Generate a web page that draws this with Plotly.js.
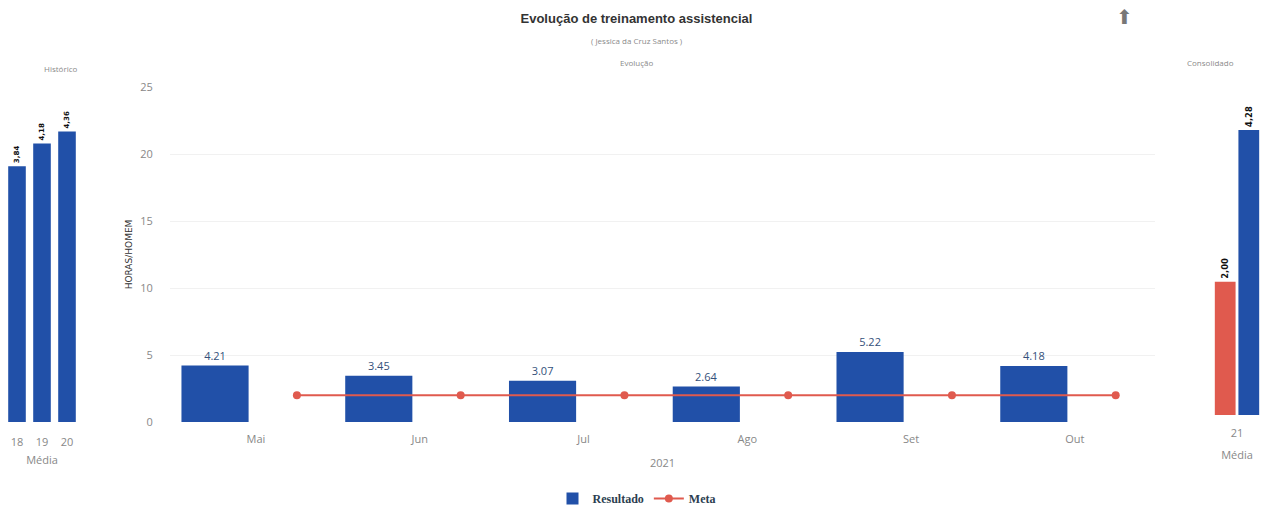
<!DOCTYPE html>
<html><head><meta charset="utf-8">
<script src="https://cdn.plot.ly/plotly-3.0.1.min.js"></script>
<style>html,body{margin:0;padding:0;background:#fff}#chart{width:1273px;height:506px}</style>
</head><body><div id="chart"></div>
<script>
// Main panel (Evolução)
const months = ["Mai", "Jun", "Jul", "Ago", "Set", "Out"];
const resultado = [4.21, 3.45, 3.07, 2.64, 5.22, 4.18];
const meta = [2.0, 2.0, 2.0, 2.0, 2.0, 2.0];
const yearLabel = "2021";
// Left panel (Histórico)
const histYears = ["18", "19", "20"];
const histValues = [3.84, 4.18, 4.36];
// Right panel (Consolidado)
const consYear = ["21"];
const consMeta = [2.00];
const consResultado = [4.28];

const BLUE = "#2150a8", RED = "#e05a4e";
const idx = months.map((m, i) => i);
const fmtComma = v => v.toFixed(2).replace(".", ",");

const W = 1273, H = 506;
const px = (a, b) => [a / W, b / W];
const py = (top, bottom) => [(H - bottom) / H, (H - top) / H];

const traces = [
  {type: "bar", name: "Resultado", x: idx.map(i => i - 0.25), y: resultado, width: 0.41,
   marker: {color: BLUE}, text: resultado.map(v => v.toFixed(2)), textposition: "outside",
   textfont: {color: "#34507a", size: 11, family: "Open Sans, sans-serif"}, cliponaxis: false,
   xaxis: "x", yaxis: "y", hoverinfo: "x+y"},
  {type: "scatter", mode: "lines+markers", name: "Meta", x: idx.map(i => i + 0.25), y: meta,
   line: {color: RED, width: 2}, marker: {color: RED, size: 8}, xaxis: "x", yaxis: "y"},
  {type: "bar", x: histYears, y: histValues, marker: {color: BLUE}, showlegend: false,
   text: histValues.map(fmtComma), textposition: "outside", textangle: -90, cliponaxis: false,
   textfont: {color: "#111", size: 9, family: "DejaVu Sans, sans-serif", weight: "bold"},
   xaxis: "x2", yaxis: "y2"},
  {type: "bar", x: consYear, y: consMeta, marker: {color: RED}, showlegend: false,
   text: consMeta.map(fmtComma), textposition: "outside", textangle: -90, cliponaxis: false,
   textfont: {color: "#111", size: 9, family: "DejaVu Sans, sans-serif", weight: "bold"},
   xaxis: "x3", yaxis: "y3"},
  {type: "bar", x: consYear, y: consResultado, marker: {color: BLUE}, showlegend: false,
   text: consResultado.map(fmtComma), textposition: "outside", textangle: -90, cliponaxis: false,
   textfont: {color: "#111", size: 9, family: "DejaVu Sans, sans-serif", weight: "bold"},
   xaxis: "x3", yaxis: "y3"}
];

const tickFont = {color: "#888", size: 11, family: "Open Sans, sans-serif"};
const grayFont = {color: "#888", size: 11, family: "Open Sans, sans-serif"};
const smallFont = {size: 8, color: "#8a8a8a", family: "Open Sans, sans-serif"};
const layout = {
  width: W, height: H, margin: {l: 0, r: 0, t: 0, b: 0, autoexpand: false},
  paper_bgcolor: "#fff", plot_bgcolor: "#fff",
  barmode: "group", bargap: 0.2, bargroupgap: 0.12,
  showlegend: true,
  legend: {orientation: "h", x: 0.5, xanchor: "center", y: -0.014, yanchor: "bottom",
           itemwidth: 30,
           font: {family: "Liberation Serif, serif", size: 12, color: "#2c3e50", weight: "bold"}},
  title: {text: "Evolução de treinamento assistencial", x: 0.5, xanchor: "center", y: (H - 18) / H, yanchor: "middle",
          font: {family: "Liberation Sans, Arial, sans-serif", size: 13, color: "#333", weight: "bold"}},
  xaxis: {domain: px(170, 1155), range: [-0.525, 5.49], tickvals: idx, ticktext: months,
          tickfont: tickFont, showgrid: false, zeroline: false, showline: false,
          ticks: "outside", ticklen: 7, tickcolor: "rgba(0,0,0,0)",
          title: {text: yearLabel, font: grayFont, standoff: 14}},
  yaxis: {domain: py(87, 422), range: [0, 25], dtick: 5, tickfont: tickFont,
          showgrid: true, gridcolor: "#f1f1f1", zeroline: false,
          ticks: "outside", ticklen: 14, tickcolor: "rgba(0,0,0,0)",
          title: {text: "HORAS/HOMEM", font: {color: "#333", size: 9, family: "DejaVu Sans, sans-serif"}, standoff: 6}},
  xaxis2: {domain: px(4.5, 79.5), type: "category", anchor: "y2", tickfont: tickFont,
           showgrid: false, zeroline: false, ticks: "outside", ticklen: 10, tickcolor: "rgba(0,0,0,0)",
           title: {text: "Média", font: grayFont, standoff: 8}},
  yaxis2: {domain: py(87, 422), range: [0, 5.03], anchor: "x2", visible: false},
  xaxis3: {domain: px(1207.5, 1266.5), type: "category", anchor: "y3", tickfont: tickFont,
           showgrid: false, zeroline: false, ticks: "outside", ticklen: 8, tickcolor: "rgba(0,0,0,0)",
           title: {text: "Média", font: grayFont, standoff: 12}},
  yaxis3: {domain: py(80, 415), range: [0, 5.03], anchor: "x3", visible: false},
  annotations: [
    {text: "( Jessica da Cruz Santos )", xref: "paper", yref: "paper", x: 0.5, y: (H - 41) / H,
     yanchor: "middle", showarrow: false, font: smallFont},
    {text: "Evolução", xref: "paper", yref: "paper", x: 0.5, y: (H - 63) / H,
     yanchor: "middle", showarrow: false, font: smallFont},
    {text: "Histórico", xref: "paper", yref: "paper", x: 42 / W, y: (H - 68) / H,
     yanchor: "middle", showarrow: false, font: smallFont},
    {text: "Consolidado", xref: "paper", yref: "paper", x: 1236 / W, y: (H - 63) / H,
     yanchor: "middle", showarrow: false, font: smallFont},
    {text: "⬆", xref: "paper", yref: "paper", x: 1135 / W, y: (H - 17) / H,
     yanchor: "middle", showarrow: false, font: {size: 20, color: "#777", family: "DejaVu Sans, sans-serif"}}
  ]
};

Plotly.newPlot("chart", traces, layout, {displayModeBar: false});
</script></body></html>
